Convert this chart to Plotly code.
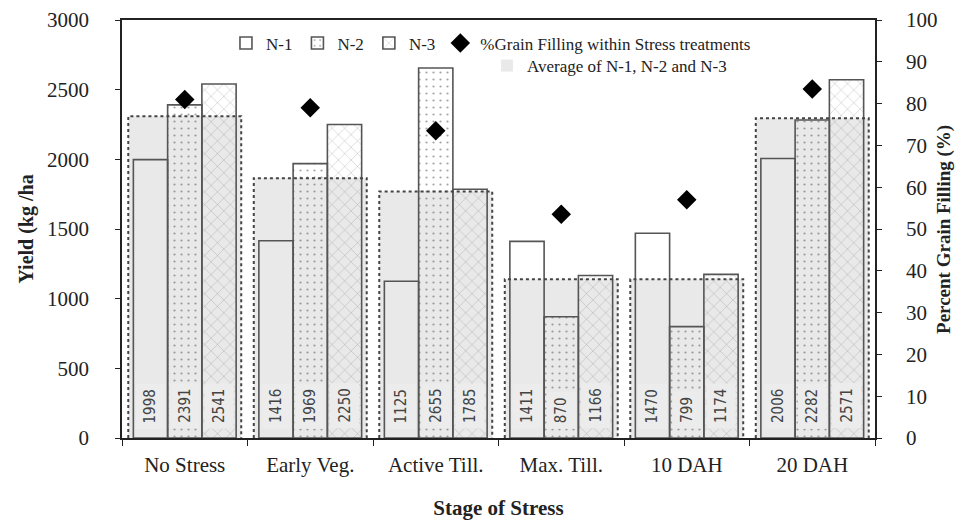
import plotly.graph_objects as go

categories = ["No Stress", "Early Veg.", "Active Till.", "Max. Till.", "10 DAH", "20 DAH"]
n1 = [1998, 1416, 1125, 1411, 1470, 2006]
n2 = [2391, 1969, 2655, 870, 799, 2282]
n3 = [2541, 2250, 1785, 1166, 1174, 2571]
avg = [2310, 1865, 1770, 1140, 1140, 2295]
grain_pct = [81, 79, 73.5, 53.5, 57, 83.5]

SERIF = "Liberation Serif, Times New Roman, serif"
COND = "DejaVu Sans Condensed, Liberation Sans Narrow, Arial Narrow, sans-serif"

w = 0.273
aw = 0.9

fig = go.Figure()

fig.add_trace(go.Bar(
    x=categories, y=avg, name="Average of N-1, N-2 and N-3",
    width=aw, offset=-aw / 2,
    marker=dict(color="#e9e9e9", line=dict(width=0)),
    legend="legend2", hoverinfo="skip"))

series = [("N-1", n1, "", -1.5 * w), ("N-2", n2, ".", -0.5 * w), ("N-3", n3, "x", 0.5 * w)]
for name, vals, shape, off in series:
    pat = dict(shape=shape, fgcolor="#4a4a4a", bgcolor="rgba(0,0,0,0)",
               size=7 if shape == "." else 9,
               solidity=0.08 if shape == "." else 0.08)
    fig.add_trace(go.Bar(
        x=categories, y=vals, name=name, width=w, offset=off,
        marker=dict(color="rgba(0,0,0,0)", line=dict(color="#555555", width=1.6),
                    pattern=pat),
        legend="legend"))

fig.add_trace(go.Scatter(
    x=categories, y=grain_pct, name="%Grain Filling within Stress treatments",
    mode="markers", yaxis="y2",
    marker=dict(symbol="diamond", size=15, color="black"),
    legend="legend"))

# dotted outline of the average bars
for i, v in enumerate(avg):
    fig.add_shape(type="path",
                  path=f"M {i - aw/2},0 L {i - aw/2},{v} L {i + aw/2},{v} L {i + aw/2},0",
                  xref="x", yref="y", layer="above",
                  line=dict(color="#444444", width=2, dash="dot"))

# value labels at the base of each bar
for _, vals, _, off in series:
    for i, v in enumerate(vals):
        fig.add_annotation(x=i + off + w / 2, y=0, xref="x", yref="y",
                           text=str(v), textangle=-90, showarrow=False,
                           yanchor="bottom", yshift=9,
                           bgcolor="#ececec", borderpad=5,
                           font=dict(family=COND, size=15, color="#444444"))

# axis titles (placed in the margins)
fig.add_annotation(x=-0.128, y=0.5, xref="paper", yref="paper",
                   text="<b>Yield (kg /ha</b>", textangle=-90, showarrow=False,
                   xanchor="center", yanchor="middle",
                   font=dict(family=SERIF, size=20, color="#222222"))
fig.add_annotation(x=1.0916, y=0.5, xref="paper", yref="paper",
                   text="<b>Percent Grain Filling (%)</b>", textangle=-90, showarrow=False,
                   xanchor="center", yanchor="middle",
                   font=dict(family=SERIF, size=19, color="#222222"))

fig.update_layout(
    width=955, height=521,
    margin=dict(l=122, r=80, t=20, b=83),
    paper_bgcolor="white", plot_bgcolor="white",
    barmode="overlay",
    font=dict(family=SERIF, size=16, color="#222222"),
    showlegend=True,
    legend=dict(orientation="h", x=0.49, xanchor="center", y=0.944, yanchor="middle",
                bgcolor="rgba(0,0,0,0)", font=dict(family=SERIF, size=17),
                itemwidth=30, traceorder="normal"),
    legend2=dict(orientation="h", x=0.81, xanchor="right", y=0.89, yanchor="middle",
                 bgcolor="rgba(0,0,0,0)", font=dict(family=SERIF, size=17),
                 itemwidth=30),
    xaxis=dict(type="category", tickson="boundaries", ticks="outside", ticklen=6,
               tickcolor="#222", showline=True, linecolor="#222", linewidth=1.5,
               mirror=True, showgrid=False, ticklabelstandoff=7, automargin=False,
               tickfont=dict(family=SERIF, size=21),
               title=dict(text="<b>Stage of Stress</b>", font=dict(family=SERIF, size=21),
                          standoff=24)),
    yaxis=dict(range=[0, 3000], dtick=500, ticks="outside", ticklen=5, tickcolor="#222",
               showline=True, linecolor="#222", linewidth=1.5, showgrid=False,
               zeroline=False, tickfont=dict(family=SERIF, size=21),
               ticklabelstandoff=22, automargin=False),
    yaxis2=dict(range=[0, 100], dtick=10, overlaying="y", side="right",
                ticks="outside", ticklen=5, tickcolor="#222",
                showline=True, linecolor="#222", linewidth=1.5, showgrid=False,
                zeroline=False, tickfont=dict(family=SERIF, size=21),
                ticklabelstandoff=20, automargin=False),
)

fig.write_html("out.html", config={"displayModeBar": False},
               post_script="document.body.style.margin='0';document.body.style.overflow='hidden';")
